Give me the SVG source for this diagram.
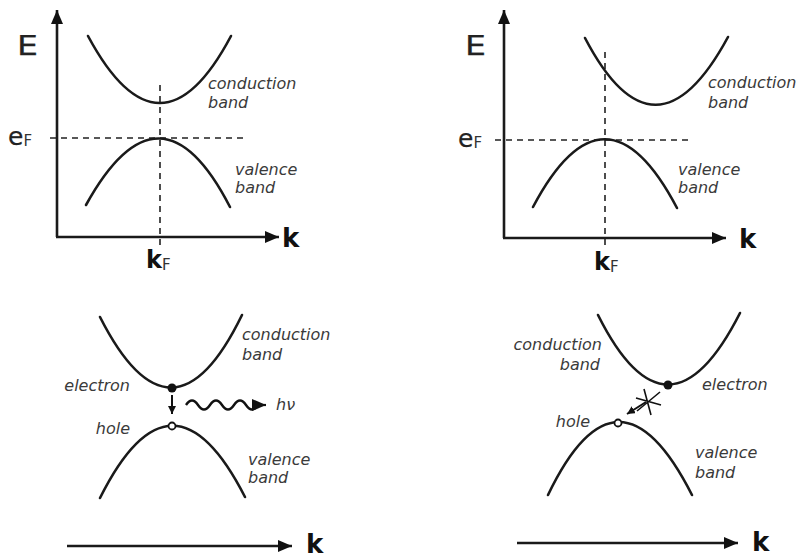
<svg xmlns="http://www.w3.org/2000/svg" width="803" height="558" viewBox="0 0 803 558">
<defs>
<marker id="ah" markerUnits="userSpaceOnUse" markerWidth="16" markerHeight="14" refX="14" refY="6" orient="auto"><path d="M0,0 L14,6 L0,12 z" fill="#111"/></marker>
<marker id="as" markerUnits="userSpaceOnUse" markerWidth="10" markerHeight="10" refX="8" refY="4" orient="auto"><path d="M0,0 L8,4 L0,8 z" fill="#111"/></marker>
</defs>
<style>
.band{fill:none;stroke:#1a1a1a;stroke-width:2.6;stroke-linecap:round}
.axis{fill:none;stroke:#1a1a1a;stroke-width:2.6}
.dash{fill:none;stroke:#222;stroke-width:1.6;stroke-dasharray:6,5}
.lbl{font-family:"DejaVu Sans",sans-serif;font-style:italic;font-size:16px;fill:#3a3a3a}
.big{font-family:"DejaVu Sans",sans-serif;fill:#222;stroke:#222;stroke-width:0.25}
.bk{font-family:"DejaVu Sans",sans-serif;font-weight:bold;fill:#111}
.sub{font-family:"DejaVu Sans",sans-serif;font-weight:normal;fill:#333;stroke:none}
</style>
<rect width="803" height="558" fill="#fff"/>

<g id="connectors">
<path class="axis" d="M57,237 V10" marker-end="url(#ah)"/>
<path class="axis" d="M56,237 H279" marker-end="url(#ah)"/>
<path class="dash" d="M50,138 H247"/>
<path class="dash" d="M160,85 V245"/>
<path class="axis" d="M504,238 V10" marker-end="url(#ah)"/>
<path class="axis" d="M503,238 H726" marker-end="url(#ah)"/>
<path class="dash" d="M495,140 H693"/>
<path class="dash" d="M605,52 V245"/>
<path class="axis" d="M67,546 H292" marker-end="url(#ah)"/>
<path class="axis" d="M517,543 H738" marker-end="url(#ah)"/>
<path fill="none" stroke="#111" stroke-width="2" d="M172,395 V414" marker-end="url(#as)"/>
<path fill="none" stroke="#111" stroke-width="2.4" d="M186,405 q6,-9 12,0 t12,0 t12,0 t12,0 t12,0 t12,0" />
<path fill="none" stroke="#111" stroke-width="2.2" d="M258,405 H266" marker-end="url(#ah)"/>
<path fill="none" stroke="#111" stroke-width="2" d="M646,402 L627,414" marker-end="url(#as)"/>
<path fill="none" stroke="#111" stroke-width="1.6" d="M644,389 L651,415 M636,398 L661,405 M660,392 L637,411"/>
</g>

<g id="top-left">
<path class="band" d="M88,36 Q160,170 231,36"/>
<path class="band" d="M86,205 Q160,71 230,207"/>
<text class="big" x="17" y="55" font-size="27" textLength="21" lengthAdjust="spacingAndGlyphs">E</text>
<text class="big" x="8" y="145" font-size="25">e<tspan class="sub" font-size="15" dy="1">F</tspan></text>
<text class="bk" x="146" y="268" font-size="24">k<tspan class="sub" font-size="15" dy="2">F</tspan></text>
<text class="bk" x="282" y="247" font-size="26">k</text>
<text class="lbl" x="208" y="89">conduction</text>
<text class="lbl" x="208" y="108">band</text>
<text class="lbl" x="235" y="175">valence</text>
<text class="lbl" x="235" y="193">band</text>
</g>

<g id="top-right">
<path class="band" d="M585,38 Q655,172 728,37"/>
<path class="band" d="M533,207 Q605,71 677,208"/>
<text class="big" x="465" y="55" font-size="27" textLength="21" lengthAdjust="spacingAndGlyphs">E</text>
<text class="big" x="458" y="147" font-size="25">e<tspan class="sub" font-size="15" dy="1">F</tspan></text>
<text class="bk" x="594" y="270" font-size="24">k<tspan class="sub" font-size="15" dy="2">F</tspan></text>
<text class="bk" x="739" y="248" font-size="26">k</text>
<text class="lbl" x="708" y="88">conduction</text>
<text class="lbl" x="708" y="108">band</text>
<text class="lbl" x="678" y="175">valence</text>
<text class="lbl" x="678" y="193">band</text>
</g>

<g id="bottom-left">
<path class="band" d="M100,317 Q172,459 242,315"/>
<path class="band" d="M100,498 Q172,354 245,497"/>
<circle cx="172" cy="388" r="4.5" fill="#111"/>
<circle cx="172" cy="426" r="3.5" fill="#fff" stroke="#111" stroke-width="1.8"/>
<text class="lbl" x="242" y="340">conduction</text>
<text class="lbl" x="242" y="360">band</text>
<text class="lbl" x="248" y="465">valence</text>
<text class="lbl" x="248" y="483">band</text>
<text class="lbl" x="130" y="391" text-anchor="end">electron</text>
<text class="lbl" x="130" y="434" text-anchor="end">hole</text>
<text class="lbl" x="276" y="410" font-size="14">hν</text>
<text class="bk" x="306" y="553" font-size="26">k</text>
</g>

<g id="bottom-right">
<path class="band" d="M598,315 Q668,455 740,313"/>
<path class="band" d="M548,495 Q618,349 692,495"/>
<circle cx="668" cy="385" r="4.5" fill="#111"/>
<circle cx="618" cy="423" r="3.5" fill="#fff" stroke="#111" stroke-width="1.8"/>
<text class="lbl" x="602" y="350" text-anchor="end">conduction</text>
<text class="lbl" x="600" y="370" text-anchor="end">band</text>
<text class="lbl" x="695" y="458">valence</text>
<text class="lbl" x="695" y="478">band</text>
<text class="lbl" x="702" y="390">electron</text>
<text class="lbl" x="590" y="427" text-anchor="end">hole</text>
<text class="bk" x="752" y="551" font-size="26">k</text>
</g>
</svg>
